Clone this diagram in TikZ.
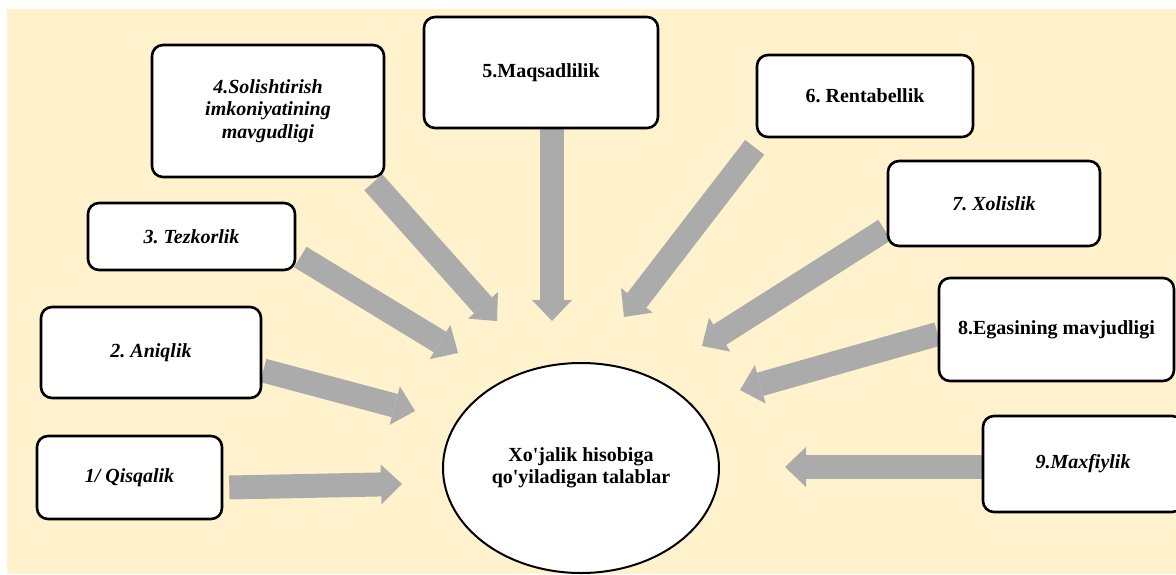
\documentclass[tikz,border=0pt]{standalone}
\usepackage{fontspec}
\setmainfont{Liberation Serif}[Ligatures=TeXOff]
\usetikzlibrary{arrows.meta,calc,shapes.geometric,backgrounds}
\definecolor{panel}{HTML}{FFF2CC}
\definecolor{arrowgrey}{HTML}{ABABAB}

\begin{document}
\frenchspacing
\begin{tikzpicture}[x=1pt,y=-1pt,
  box/.style={draw=black, line width=2.6pt, fill=white, rounded corners=11pt,
    align=center, inner sep=0pt,
    font=\fontsize{20}{22.5}\selectfont\bfseries},
  ibox/.style={box, font=\fontsize{20}{22.5}\selectfont\bfseries\itshape},
  fat/.style={draw=arrowgrey, line width=24pt, line cap=butt,
    -{Triangle[width=40pt,length=21pt,line width=0pt]}}]

\useasboundingbox (0,0) rectangle (1176,574);

% requirement boxes
\node[ibox, minimum width=185pt, minimum height=83pt]  (b1) at (129.5,477.5) {1/ Qisqalik};
\node[ibox, minimum width=220pt, minimum height=91pt]  (b2) at (151,352.5) {2. Aniqlik};
\node[ibox, minimum width=207pt, minimum height=67pt]  (b3) at (191.5,236.5) {3. Tezkorlik};
\node[ibox, minimum width=232pt, minimum height=132pt] (b4) at (268,111) {4.Solishtirish\\imkoniyatining\\mavgudligi};
\node[box,  minimum width=234pt, minimum height=111pt] (b5) at (541,72.5) {5.Maqsadlilik};
\node[box,  minimum width=216pt, minimum height=82pt]  (b6) at (865,96) {6. Rentabellik};
\node[ibox, minimum width=212pt, minimum height=85pt]  (b7) at (994,203.5) {7. Xolislik};
\node[box,  minimum width=235pt, minimum height=103pt] (b8) at (1056.5,329.5) {8.Egasining mavjudligi};
\node[ibox, minimum width=200pt, minimum height=96pt]  (b9) at (1083,464) {9.Maxfiylik};

% central ellipse
\node[ellipse, draw=black, line width=2pt, fill=white, inner sep=0pt,
  minimum width=276pt, minimum height=210pt, align=center,
  font=\fontsize{20}{22.5}\selectfont\bfseries] (c) at (581,468)
  {Xo'jalik hisobiga\\qo'yiladigan talablar};

% arrow tips pointing towards the ellipse
\coordinate (t1) at (402,484);
\coordinate (t2) at (415,411);
\coordinate (t3) at (458,353);
\coordinate (t4) at (497,321);
\coordinate (t5) at (552,321);
\coordinate (t6) at (624,317);
\coordinate (t7) at (702,346);
\coordinate (t8) at (740,390);
\coordinate (t9) at (785,467);

\begin{scope}[on background layer]
  \fill[panel] (7,9) rectangle (1176,574);
  \draw[fat] ($(b1.east)+(6,10)$) -- (t1);
  \draw[fat] ($(b2.east)+(1,18)$) -- (t2);
  \draw[fat] ($(b3.east)+(4,20.5)$) -- (t3);
  \draw[fat] ($(b4.south east)+(-12,4)$) -- (t4);
  \draw[fat] ($(b5.south)+(11,0)$) -- (t5);
  \draw[fat] ($(b6.south west)+(-1,9)$) -- (t6);
  \draw[fat] ($(b7.west)+(-2,26.5)$) -- (t7);
  \draw[fat] ($(b8.west)+(0,4.5)$) -- (t8);
  \draw[fat] ($(b9.west)+(0,3)$) -- (t9);
\end{scope}
\end{tikzpicture}
\end{document}
